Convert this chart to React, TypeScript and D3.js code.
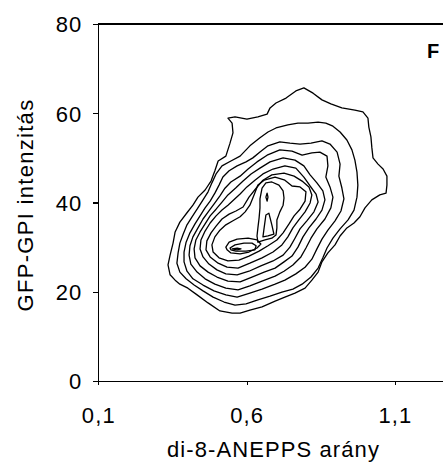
import React, { useEffect, useRef } from "react";
import * as d3 from "d3";

type Pt = [number, number];

const xTicks = [0.1, 0.6, 1.1];
const yTicks = [0, 20, 40, 60, 80];
const xLabel = "di-8-ANEPPS arány";
const yLabel = "GFP-GPI intenzitás";
const panelLabel = "F";

// Density contour lines, outermost first (x: di-8-ANEPPS ratio, y: GFP-GPI intensity)
const contour1: Pt[] = [[0.537,58.9],[0.561,59.2],[0.601,58.7],[0.638,59.2],[0.669,59.8],[0.679,61.2],[0.699,62.3],[0.733,63.4],[0.766,65.0],[0.793,65.7],[0.824,64.5],[0.854,63.0],[0.884,62.1],[0.921,61.2],[0.965,60.7],[0.992,60.3],[1.009,58.9],[1.012,56.9],[1.019,54.7],[1.022,52.4],[1.026,50.0],[1.043,48.6],[1.060,47.5],[1.073,45.9],[1.073,43.9],[1.070,42.1],[1.049,41.7],[1.022,40.6],[0.999,38.8],[0.982,36.8],[0.962,35.4],[0.938,34.3],[0.915,32.5],[0.898,30.5],[0.874,28.7],[0.854,26.7],[0.841,24.4],[0.820,22.6],[0.797,20.8],[0.763,19.7],[0.729,18.8],[0.696,17.9],[0.652,16.6],[0.611,15.9],[0.578,15.2],[0.551,15.2],[0.510,15.7],[0.470,17.5],[0.433,19.3],[0.402,20.8],[0.375,21.7],[0.359,22.6],[0.342,23.8],[0.335,26.0],[0.342,28.2],[0.352,30.9],[0.359,33.4],[0.375,35.6],[0.399,37.7],[0.419,39.4],[0.436,41.2],[0.460,42.8],[0.480,44.8],[0.493,47.1],[0.504,49.3],[0.530,50.4],[0.544,53.3],[0.554,55.6],[0.551,57.8]];
const contour2: Pt[] = [[0.645,54.5],[0.672,55.8],[0.699,56.7],[0.739,57.4],[0.773,57.8],[0.807,57.8],[0.841,58.0],[0.867,57.8],[0.891,57.1],[0.915,55.8],[0.938,54.0],[0.955,51.8],[0.965,49.5],[0.972,46.8],[0.975,43.9],[0.972,41.2],[0.962,38.3],[0.942,36.1],[0.915,34.1],[0.891,32.0],[0.871,29.8],[0.857,27.6],[0.841,25.3],[0.817,23.3],[0.787,21.7],[0.756,20.6],[0.719,19.9],[0.679,19.0],[0.638,18.2],[0.598,17.3],[0.561,17.0],[0.524,17.7],[0.487,18.8],[0.453,20.2],[0.423,21.5],[0.396,22.9],[0.375,24.4],[0.365,26.4],[0.369,28.7],[0.375,30.9],[0.386,32.9],[0.399,35.0],[0.416,36.8],[0.433,38.5],[0.453,40.6],[0.470,42.4],[0.483,44.4],[0.497,46.4],[0.517,48.2],[0.547,49.3],[0.578,50.4],[0.611,52.7]];
const contour3: Pt[] = [[0.598,49.1],[0.621,50.0],[0.645,51.3],[0.672,52.7],[0.712,53.6],[0.746,53.3],[0.780,53.1],[0.817,53.3],[0.854,53.8],[0.881,53.1],[0.905,51.3],[0.915,48.6],[0.911,45.9],[0.921,43.3],[0.928,40.8],[0.918,38.1],[0.898,35.9],[0.874,33.8],[0.854,31.8],[0.837,29.6],[0.820,27.3],[0.797,25.5],[0.766,24.0],[0.729,22.6],[0.696,21.7],[0.652,20.6],[0.611,19.7],[0.568,18.8],[0.530,19.3],[0.490,20.2],[0.453,21.5],[0.419,22.9],[0.399,24.6],[0.389,26.7],[0.389,28.9],[0.396,31.1],[0.409,33.2],[0.426,35.2],[0.443,37.0],[0.460,38.8],[0.477,40.3],[0.493,42.1],[0.507,43.9],[0.520,45.7],[0.541,47.1],[0.568,48.2]];
const contour4: Pt[] = [[0.578,45.9],[0.605,47.5],[0.635,49.1],[0.669,50.6],[0.712,51.8],[0.753,51.5],[0.787,50.6],[0.820,51.1],[0.847,51.3],[0.871,50.4],[0.874,48.2],[0.867,45.7],[0.881,43.5],[0.891,41.2],[0.884,38.8],[0.864,36.3],[0.837,34.1],[0.817,32.0],[0.800,29.8],[0.783,27.8],[0.756,26.0],[0.726,24.6],[0.696,23.5],[0.652,22.4],[0.611,21.3],[0.571,20.4],[0.530,20.8],[0.493,21.7],[0.460,22.9],[0.433,24.4],[0.412,26.2],[0.406,28.2],[0.409,30.3],[0.419,32.3],[0.436,34.3],[0.453,36.3],[0.473,38.1],[0.493,39.9],[0.510,41.5],[0.527,43.2],[0.547,44.6]];
const contour5: Pt[] = [[0.564,43.3],[0.588,44.8],[0.615,46.4],[0.645,47.7],[0.679,49.1],[0.723,50.0],[0.763,49.5],[0.793,48.2],[0.814,46.2],[0.837,44.4],[0.857,42.6],[0.864,40.6],[0.854,38.3],[0.834,36.3],[0.810,34.3],[0.790,32.3],[0.773,30.0],[0.753,28.0],[0.726,26.7],[0.696,25.3],[0.659,24.4],[0.618,23.3],[0.578,22.2],[0.537,22.4],[0.500,23.3],[0.470,24.4],[0.443,25.8],[0.426,27.6],[0.423,29.6],[0.429,31.6],[0.443,33.4],[0.460,35.2],[0.477,37.0],[0.497,38.5],[0.517,40.1],[0.537,41.7]];
const contour6: Pt[] = [[0.557,40.6],[0.578,41.9],[0.601,43.5],[0.628,45.0],[0.655,46.4],[0.689,47.5],[0.729,48.2],[0.766,47.7],[0.793,45.7],[0.814,43.7],[0.834,41.9],[0.841,40.1],[0.827,37.9],[0.803,35.9],[0.780,34.1],[0.763,32.0],[0.746,30.0],[0.723,28.2],[0.689,26.9],[0.648,25.8],[0.608,24.6],[0.568,23.8],[0.530,24.0],[0.500,24.9],[0.473,26.2],[0.453,27.8],[0.443,29.6],[0.446,31.6],[0.460,33.6],[0.477,35.4],[0.497,37.0],[0.517,38.3],[0.537,39.4]];
const contour7: Pt[] = [[0.588,39.0],[0.608,41.2],[0.632,43.2],[0.655,45.0],[0.685,46.2],[0.726,46.6],[0.760,45.9],[0.787,44.8],[0.810,43.5],[0.820,41.7],[0.814,39.9],[0.797,37.9],[0.776,36.1],[0.756,34.3],[0.739,32.3],[0.719,30.5],[0.689,28.9],[0.652,27.6],[0.611,26.4],[0.571,25.3],[0.534,25.5],[0.504,26.4],[0.477,27.8],[0.463,29.4],[0.466,31.4],[0.480,33.2],[0.497,34.7],[0.517,36.3],[0.541,37.4],[0.564,38.1]];
const contour8: Pt[] = [[0.611,39.4],[0.625,41.7],[0.638,43.9],[0.659,45.0],[0.696,45.7],[0.729,45.0],[0.753,43.7],[0.780,43.5],[0.800,42.4],[0.797,40.3],[0.780,38.5],[0.760,37.0],[0.743,35.2],[0.723,33.2],[0.702,31.6],[0.672,30.3],[0.642,29.1],[0.608,28.0],[0.574,27.1],[0.537,26.9],[0.507,27.6],[0.487,28.9],[0.483,30.5],[0.493,32.3],[0.510,33.8],[0.530,35.0],[0.554,35.9],[0.578,36.8],[0.595,37.9]];
// Upper mode
const upperMode1: Pt[] = [[0.645,40.8],[0.652,43.2],[0.665,44.4],[0.685,44.6],[0.709,43.9],[0.723,42.6],[0.726,41.0],[0.723,39.4],[0.712,37.9],[0.702,36.1],[0.702,34.3],[0.699,32.7],[0.685,32.0],[0.662,31.6],[0.638,31.1],[0.635,32.5],[0.638,34.3],[0.642,36.5],[0.645,38.8]];
const upperMode2: Pt[] = [[0.665,37.2],[0.675,37.6],[0.685,35.0],[0.692,32.9],[0.672,32.5],[0.655,32.3],[0.659,34.3]];
const upperMode3: Pt[] = [[0.669,42.1],[0.672,41.2],[0.669,40.3],[0.665,41.2]];
// Lower mode
const lowerMode1: Pt[] = [[0.530,30.0],[0.541,31.1],[0.568,31.8],[0.605,32.0],[0.635,31.6],[0.648,30.7],[0.635,29.8],[0.608,28.9],[0.578,28.5],[0.547,28.7],[0.534,29.4]];
const lowerMode2: Pt[] = [[0.544,29.8],[0.561,30.5],[0.591,30.9],[0.618,30.9],[0.632,30.3],[0.628,29.4],[0.598,29.1],[0.564,29.1],[0.547,29.4]];
const lowerMode3: Pt[] = [[0.551,29.6],[0.568,29.8],[0.581,29.6],[0.568,29.4]];

const allContours: Pt[][] = [
  contour1, contour2, contour3, contour4, contour5, contour6, contour7, contour8,
  upperMode1, upperMode2, upperMode3, lowerMode1, lowerMode2, lowerMode3,
];

const FONT = "'Liberation Sans', Arial, Helvetica, sans-serif";

export default function App() {
  const xAxisRef = useRef<SVGGElement>(null);
  const yAxisRef = useRef<SVGGElement>(null);
  const W = 443;
  const H = 465;

  const x = d3.scaleLinear().domain([0.1, 1.262]).range([98.3, 443]);
  const y = d3.scaleLinear().domain([0, 80]).range([381, 24]);
  const line = d3
    .line<Pt>()
    .x((d) => x(d[0]))
    .y((d) => y(d[1]))
    .curve(d3.curveLinearClosed);

  useEffect(() => {
    const fmt = (v: number) => d3.format(".1f")(v).replace(".", ",");
    const gx = d3.select(xAxisRef.current!);
    gx.call(
      d3
        .axisBottom(x)
        .tickValues(xTicks)
        .tickFormat(fmt as any)
        .tickSize(4)
        .tickSizeOuter(0)
        .tickPadding(22)
    );
    const gy = d3.select(yAxisRef.current!);
    gy.call(
      d3
        .axisLeft(y)
        .tickValues(yTicks)
        .tickFormat(d3.format("d") as any)
        .tickSize(5)
        .tickSizeOuter(0)
        .tickPadding(11)
    );
    [gx, gy].forEach((g) => {
      g.attr("font-size", 22).attr("font-family", FONT);
      g.selectAll("path, line").attr("stroke", "#000").attr("stroke-width", 1.2).attr("shape-rendering", "crispEdges");
      g.selectAll("text").attr("fill", "#000").attr("letter-spacing", "1.1px");
    });
    gx.selectAll("text").attr("dy", "0");
    gx.selectAll("text").attr("y", 41.5);
    gy.selectAll("text").attr("dy", "0.36em");
  }, []);

  return (
    <svg
      width={W}
      height={H}
      style={{ position: "absolute", left: 0, top: 0, background: "#fff", display: "block" }}
    >
      <rect x={0} y={0} width={W} height={H} fill="#fff" />
      <line
        x1={x(0.1)}
        x2={W}
        y1={y(80)}
        y2={y(80)}
        stroke="#000"
        strokeWidth={1.2}
        shapeRendering="crispEdges"
      />
      <g>
        {allContours.map((c, i) => (
          <path key={i} d={line(c) || ""} fill="none" stroke="#000" strokeWidth={1.3} strokeLinejoin="round" />
        ))}
      </g>
      <g ref={xAxisRef} transform={`translate(0,${y(0)})`} />
      <g ref={yAxisRef} transform={`translate(${x(0.1)},0)`} />
      <text
        x={273.5}
        y={456.5}
        textAnchor="middle"
        fontFamily={FONT}
        fontSize={22}
        letterSpacing="1.1px"
        fill="#000"
      >
        {xLabel}
      </text>
      <text
        transform="translate(32.5,205) rotate(-90)"
        textAnchor="middle"
        fontFamily={FONT}
        fontSize={22}
        letterSpacing="1.3px"
        fill="#000"
      >
        {yLabel}
      </text>
      <text x={427} y={58} fontFamily={FONT} fontSize={20} fontWeight="bold" fill="#000">
        {panelLabel}
      </text>
    </svg>
  );
}
